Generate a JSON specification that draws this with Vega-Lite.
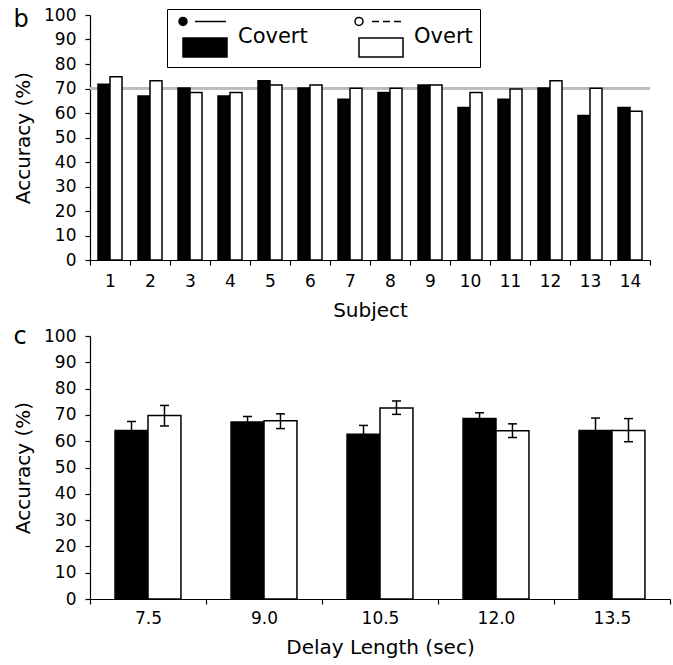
{
  "$schema": "https://vega.github.io/schema/vega-lite/v6.json",
  "padding": {"left": 13, "top": 6, "right": 2, "bottom": 3},
  "config": {
    "font": "DejaVu Sans",
    "view": {"stroke": null},
    "axis": {
      "domainColor": "black", "tickColor": "black", "labelColor": "black", "titleColor": "black",
      "domainWidth": 1.2, "tickWidth": 1.2, "tickSize": 5, "grid": false,
      "labelFontSize": 17, "titleFontSize": 20, "titleFontWeight": "normal"
    },
    "axisX": {"labelAngle": 0, "labelPadding": 6, "titlePadding": 8, "tickBand": "extent"},
    "axisY": {"labelPadding": 9, "titlePadding": 10, "labelOverlap": false}
  },
  "vconcat": [
    {
      "width": 560, "height": 245,
      "title": {"text": "b", "anchor": "start", "frame": "bounds", "fontSize": 24, "fontWeight": "normal", "color": "black", "offset": 0, "dy": 26},
      "data": {"values": [
        {"subject": 1, "cond": "Covert", "acc": 71.7}, {"subject": 1, "cond": "Overt", "acc": 74.8},
        {"subject": 2, "cond": "Covert", "acc": 66.9}, {"subject": 2, "cond": "Overt", "acc": 73.2},
        {"subject": 3, "cond": "Covert", "acc": 70.2}, {"subject": 3, "cond": "Overt", "acc": 68.4},
        {"subject": 4, "cond": "Covert", "acc": 66.9}, {"subject": 4, "cond": "Overt", "acc": 68.4},
        {"subject": 5, "cond": "Covert", "acc": 73.2}, {"subject": 5, "cond": "Overt", "acc": 71.4},
        {"subject": 6, "cond": "Covert", "acc": 70.2}, {"subject": 6, "cond": "Overt", "acc": 71.4},
        {"subject": 7, "cond": "Covert", "acc": 65.6}, {"subject": 7, "cond": "Overt", "acc": 70.1},
        {"subject": 8, "cond": "Covert", "acc": 68.4}, {"subject": 8, "cond": "Overt", "acc": 70.1},
        {"subject": 9, "cond": "Covert", "acc": 71.4}, {"subject": 9, "cond": "Overt", "acc": 71.4},
        {"subject": 10, "cond": "Covert", "acc": 62.2}, {"subject": 10, "cond": "Overt", "acc": 68.4},
        {"subject": 11, "cond": "Covert", "acc": 65.6}, {"subject": 11, "cond": "Overt", "acc": 69.8},
        {"subject": 12, "cond": "Covert", "acc": 70.2}, {"subject": 12, "cond": "Overt", "acc": 73.2},
        {"subject": 13, "cond": "Covert", "acc": 59.0}, {"subject": 13, "cond": "Overt", "acc": 70.1},
        {"subject": 14, "cond": "Covert", "acc": 62.2}, {"subject": 14, "cond": "Overt", "acc": 60.7}
      ]},
      "layer": [
        {"mark": {"type": "rule", "color": "#bdbdbd", "strokeWidth": 1.5},
         "encoding": {"y": {"datum": 70, "type": "quantitative", "title": "Accuracy (%)",
                  "scale": {"domain": [0, 100], "nice": false},
                  "axis": {"values": [0,10,20,30,40,50,60,70,80,90,100], "tickCount": 11, "labelOverlap": false}}}},
        {
          "mark": {"type": "bar", "stroke": "black", "strokeWidth": 1.5},
          "encoding": {
            "x": {"field": "subject", "type": "ordinal", "title": "Subject",
                  "scale": {"paddingInner": 0, "paddingOuter": 0},
                  "axis": {"labelPadding": 8, "titlePadding": 11}},
            "xOffset": {"field": "cond", "type": "nominal", "scale": {"paddingInner": 0, "paddingOuter": 0.667}},
            "y": {"field": "acc", "type": "quantitative", "title": "Accuracy (%)",
                  "scale": {"domain": [0, 100], "nice": false},
                  "axis": {"values": [0,10,20,30,40,50,60,70,80,90,100], "tickCount": 11, "labelOverlap": false}},
            "fill": {"field": "cond", "type": "nominal",
                     "scale": {"domain": ["Covert", "Overt"], "range": ["black", "white"]},
                     "legend": {
                       "title": null, "orient": "none", "legendX": 77, "legendY": -6,
                       "direction": "horizontal", "strokeColor": "black", "padding": 7,
                       "symbolSize": 1600, "symbolStrokeColor": "black", "symbolStrokeWidth": 1.5,
                       "labelFontSize": 21, "labelColor": "black", "labelOffset": 22, "columnPadding": 42,
                       "encode": {"symbols": {"update": {"shape": {"signal": "datum.value === 'Covert' ? 'M-0.4,-0.78A0.2,0.2,0,1,1,-0.8,-0.78A0.2,0.2,0,1,1,-0.4,-0.78ZM0,-0.78L1.55,-0.78M-0.6,0.05H1.6V1H-0.6Z' : 'M-0.4,-0.78A0.2,0.2,0,1,1,-0.8,-0.78A0.2,0.2,0,1,1,-0.4,-0.78ZM0.05,-0.78H0.4M0.6,-0.78H0.95M1.15,-0.78H1.5M-0.6,0.05H1.6V1H-0.6Z'"}}}}
                     }}
          }
        }
      ]
    },
    {
      "width": 580, "height": 263,
      "title": {"text": "c", "anchor": "start", "frame": "bounds", "fontSize": 24, "fontWeight": "normal", "color": "black", "offset": 0, "dy": 22},
      "data": {"values": [
        {"delay": "7.5", "cond": "Covert", "acc": 64.1, "lo": 60.7, "hi": 67.5},
        {"delay": "7.5", "cond": "Overt", "acc": 69.8, "lo": 65.8, "hi": 73.6},
        {"delay": "9.0", "cond": "Covert", "acc": 67.3, "lo": 65.2, "hi": 69.4},
        {"delay": "9.0", "cond": "Overt", "acc": 67.8, "lo": 64.8, "hi": 70.4},
        {"delay": "10.5", "cond": "Covert", "acc": 62.6, "lo": 59.2, "hi": 66.0},
        {"delay": "10.5", "cond": "Overt", "acc": 72.6, "lo": 70.2, "hi": 75.3},
        {"delay": "12.0", "cond": "Covert", "acc": 68.6, "lo": 66.4, "hi": 70.8},
        {"delay": "12.0", "cond": "Overt", "acc": 64.0, "lo": 61.4, "hi": 66.6},
        {"delay": "13.5", "cond": "Covert", "acc": 64.1, "lo": 59.4, "hi": 68.8},
        {"delay": "13.5", "cond": "Overt", "acc": 64.1, "lo": 59.8, "hi": 68.6}
      ]},
      "encoding": {
        "x": {"field": "delay", "type": "ordinal", "title": "Delay Length (sec)",
              "sort": ["7.5", "9.0", "10.5", "12.0", "13.5"],
              "scale": {"paddingInner": 0, "paddingOuter": 0},
              "axis": {"labelPadding": 6, "titlePadding": 11}},
        "xOffset": {"field": "cond", "type": "nominal", "scale": {"paddingInner": 0, "paddingOuter": 0.76}}
      },
      "layer": [
        {
          "mark": {"type": "bar", "stroke": "black", "strokeWidth": 1.5},
          "encoding": {
            "y": {"field": "acc", "type": "quantitative", "title": "Accuracy (%)",
                  "scale": {"domain": [0, 100], "nice": false},
                  "axis": {"values": [0,10,20,30,40,50,60,70,80,90,100], "tickCount": 11, "labelOverlap": false}},
            "fill": {"field": "cond", "type": "nominal",
                     "scale": {"domain": ["Covert", "Overt"], "range": ["black", "white"]},
                     "legend": null}
          }
        },
        {
          "mark": {"type": "rule", "color": "black", "strokeWidth": 1.5},
          "encoding": {"y": {"field": "lo", "type": "quantitative", "title": "Accuracy (%)",
                  "axis": {"values": [0,10,20,30,40,50,60,70,80,90,100], "tickCount": 11, "labelOverlap": false}},
                  "y2": {"field": "hi"}}
        },
        {
          "mark": {"type": "tick", "color": "black", "size": 9, "thickness": 1.5, "opacity": 1},
          "encoding": {"y": {"field": "lo", "type": "quantitative", "title": "Accuracy (%)",
                  "axis": {"values": [0,10,20,30,40,50,60,70,80,90,100], "tickCount": 11, "labelOverlap": false}}}
        },
        {
          "mark": {"type": "tick", "color": "black", "size": 9, "thickness": 1.5, "opacity": 1},
          "encoding": {"y": {"field": "hi", "type": "quantitative", "title": "Accuracy (%)",
                  "axis": {"values": [0,10,20,30,40,50,60,70,80,90,100], "tickCount": 11, "labelOverlap": false}}}
        }
      ]
    }
  ],
  "spacing": 5,
  "resolve": {"legend": {"fill": "independent"}, "scale": {"xOffset": "independent", "x": "independent"}}
}
